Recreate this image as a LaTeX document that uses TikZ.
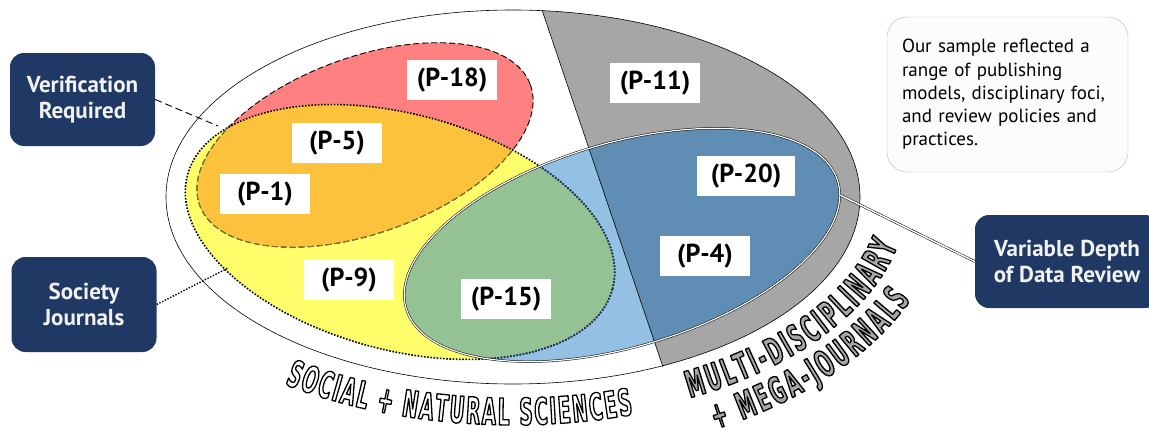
\documentclass[tikz,border=0pt]{standalone}
\usepackage{fontspec}
\setmainfont{PT Sans}
\newfontfamily\curvefont[FakeStretch=0.5]{DejaVu Sans}
\usetikzlibrary{decorations.text}

\definecolor{navy}{HTML}{1F3864}
\definecolor{boxtext}{HTML}{F2F2F2}
\definecolor{redfill}{HTML}{FF8080}
\definecolor{yellowfill}{HTML}{FFFF6B}
\definecolor{orangefill}{HTML}{FDC23C}
\definecolor{bluefill}{HTML}{94C0E3}
\definecolor{greenfill}{HTML}{94C294}
\definecolor{darkblue}{HTML}{5F8DB3}
\definecolor{grayring}{HTML}{A6A6A6}
\definecolor{olive}{HTML}{7F7A30}
\definecolor{notebord}{HTML}{D4B4A4}
\definecolor{notefill}{HTML}{FDFCFB}

% the shapes of the diagram
\newcommand{\outerpath}{(513,197) ellipse [x radius=347, y radius=187]}
\newcommand{\redpath}{(365,145) ellipse [x radius=176, y radius=88]}
\newcommand{\yellowpath}{(400,232) ellipse [x radius=220, y radius=118]}
\newcommand{\bluepath}{(622,245) ellipse [x radius=225, y radius=102]}
\newcommand{\graypath}{(532,-20) -- (681,420) -- (900,420) -- (900,-20) -- cycle}
% letters filled with the current colour and stroked in black
\newcommand{\outlineletters}{\special{pdf:literal direct 0 G 1.3 w 1 j 2 Tr}}

\begin{document}
\begin{tikzpicture}[x=1pt, y=-1pt,
    redrot/.style={rotate around={20:(365,145)}},
    yellowrot/.style={rotate around={-15:(400,232)}},
    bluerot/.style={rotate around={16.4:(622,245)}},
    redline/.style={line width=0.9pt, dash pattern=on 6pt off 3pt},
    yellowline/.style={line width=1.6pt, dash pattern=on 1.6pt off 1.6pt},
    blueline/.style={line width=0.5pt, double=white, double distance=1.2pt},
    plabel/.style={fill=white, inner sep=0pt, minimum width=90pt, minimum height=40pt,
        font=\bfseries\fontsize{26}{26}\selectfont},
    navybox/.style={fill=navy, rounded corners=14pt, text=boxtext, align=center,
        minimum width=145pt, minimum height=93pt,
        font=\bfseries\fontsize{23}{26}\selectfont},
    curvetext/.style 2 args={decorate, decoration={text along path, text align=fit to path,
        text={|\curvefont\bfseries\fontsize{37}{37}\selectfont\color{#1}\outlineletters|#2}}},
]
\useasboundingbox (0,0) rectangle (1149,431);

% outer ellipse and the multi-disciplinary ring
\fill[white] \outerpath;
\begin{scope}
    \clip \outerpath;
    \fill[grayring] \graypath;
\end{scope}
\coordinate (gtop) at (542,10);
\coordinate (gbot) at (663,367);
\draw[line width=0.6pt] \outerpath;

% fills
\fill[redfill, redrot] \redpath;
\fill[yellowfill, yellowrot] \yellowpath;
\begin{scope}
    \clip[redrot] \redpath;
    \fill[orangefill, yellowrot] \yellowpath;
\end{scope}
\fill[bluefill, bluerot] \bluepath;
\begin{scope}
    \clip[bluerot] \bluepath;
    \fill[greenfill, yellowrot] \yellowpath;
    \fill[darkblue] \graypath;
\end{scope}
\draw[line width=0.6pt] (gtop) -- (gbot);

% borders
\draw[redline, redrot] \redpath;
\begin{scope}
    \clip[yellowrot] \yellowpath;
    \draw[redline, olive, redrot] \redpath;
\end{scope}
\draw[yellowline, yellowrot] \yellowpath;
\begin{scope}
    \clip[bluerot] \bluepath;
    \draw[yellowline, navy, yellowrot] \yellowpath;
\end{scope}
\draw[blueline, bluerot] \bluepath;

% labels
\node[plabel] (p18) at (452,80) {(P-18)};
\node[plabel] (p5) at (337,143) {(P-5)};
\node[plabel] (p1) at (265,194) {(P-1)};
\node[plabel] (p9) at (349,280) {(P-9)};
\node[plabel] (p15) at (506,299) {(P-15)};
\node[plabel] (p11) at (655,83) {(P-11)};
\node[plabel, minimum width=98pt] (p20) at (746,176) {(P-20)};
\node[plabel] (p4) at (705,256) {(P-4)};

% callout boxes
\node[navybox] (verify) at (82.5,99.5) {Verification\\Required};
\node[navybox, minimum height=95pt] (society) at (84,304.5) {Society\\Journals};
\node[navybox, minimum width=184pt] (depth) at (1067,261.5) {Variable Depth\\of Data Review};
\coordinate (redtip) at (218,126);
\coordinate (yellowtip) at (228,268);
\coordinate (bluetip) at (840,195);
\draw[line width=0.9pt, dash pattern=on 7pt off 4pt] (verify.east) -- (redtip);
\draw[line width=1.4pt, dash pattern=on 1.4pt off 1.6pt] (society.east) -- (yellowtip);
\draw[blueline, double distance=1.5pt] (bluetip) -- (depth.west);

% note
\node[draw=notebord, fill=notefill, rounded corners=20pt, text width=211pt,
    minimum height=155pt, align=left, inner sep=15pt,
    font=\fontsize{19}{23.3}\selectfont] (note) at (1007.5,94.5)
    {Our sample reflected a\\range of publishing\\models, disciplinary foci,\\and review policies and\\practices.};

% curved titles
\coordinate (oc) at (513,197);
\path[curvetext={white}{SOCIAL + NATURAL SCIENCES}]
    (oc) ++(124.8:400 and 228) arc [start angle=124.8, end angle=72.5, x radius=400, y radius=228];
\path[curvetext={grayring}{MULTI-DISCIPLINARY}]
    (oc) ++(63.3:394 and 225) arc [start angle=63.3, end angle=12.5, x radius=394, y radius=225];
\path[curvetext={grayring}{+ MEGA-JOURNALS}]
    (oc) ++(62:432 and 263) arc [start angle=62, end angle=23, x radius=432, y radius=263];
\end{tikzpicture}
\end{document}
